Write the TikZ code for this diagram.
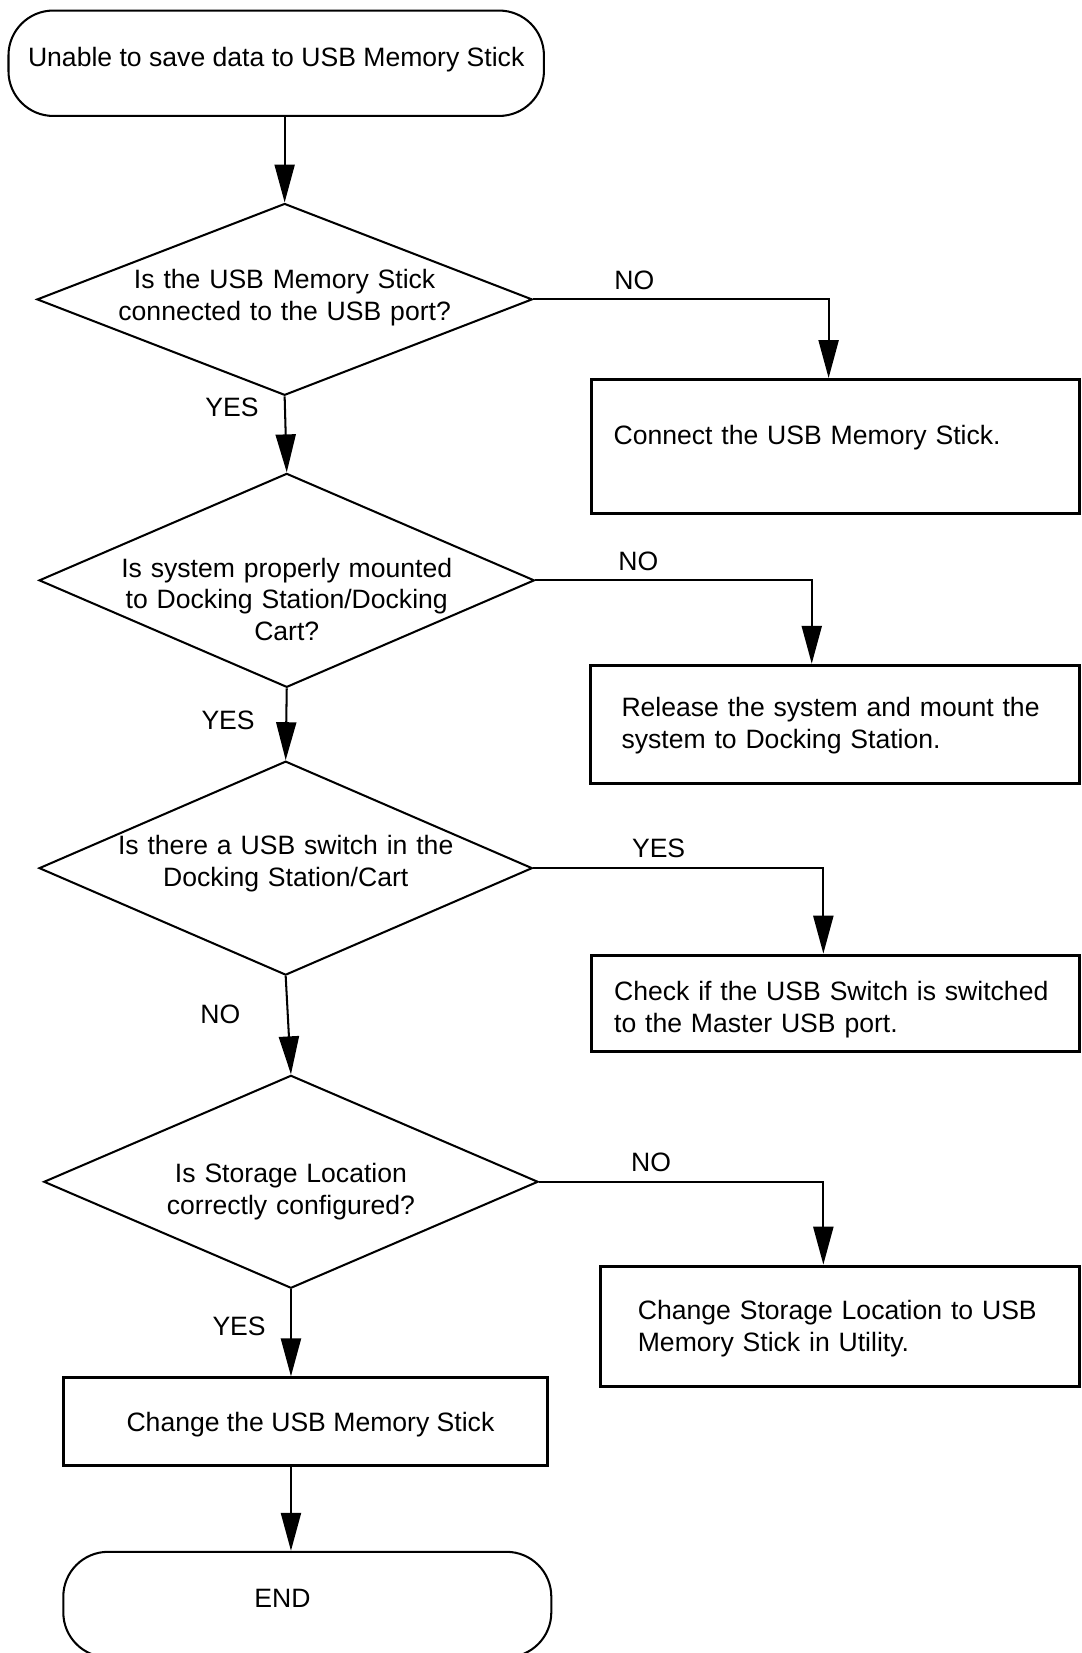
\documentclass[tikz,border=0pt]{standalone}
\usepackage{fontspec}
\setmainfont{Liberation Sans}
\usetikzlibrary{positioning, arrows.meta, shapes.geometric}

\begin{document}
\begin{tikzpicture}[
  x=0.02cm, y=-0.02cm,
  font=\fontsize{14.35}{17.07}\selectfont,
  term/.style={draw, rounded corners=0.85cm, line width=1.1pt, inner sep=0pt},
  dec/.style={draw, diamond, aspect=2.5, inner sep=0pt, line width=1.1pt,
              text width=6.4cm, align=center},
  act/.style={draw, rectangle, line width=1.6pt, inner ysep=0pt},
  flow/.style={-{Triangle[length=0.72cm, width=0.38cm]}, line width=1.1pt},
  lab/.style={inner sep=0.17cm},
]
\useasboundingbox (0,0) rectangle (1026,1568);

\node[term, minimum width=10.16cm, minimum height=2cm, text height=0.12cm,
      text depth=0pt] (start) at (262,60) {Unable to save data to USB Memory Stick};

\node[dec, minimum width=9.4cm, minimum height=3.64cm, text height=0pt,
      text depth=0.4cm] (d1) at (270,284)
  {Is the USB Memory Stick\\connected to the USB port?};
\node[act, minimum width=9.26cm, minimum height=2.54cm, text width=8.42cm,
      inner xsep=0.42cm, align=left, text height=0pt, text depth=0.06cm] (b1)
  at (792.5,423.5) {Connect the USB Memory Stick.};

\node[dec, minimum width=9.4cm, minimum height=4.06cm, text height=0pt,
      text depth=0.12cm] (d2) at (272,550.5)
  {Is system properly mounted\\to Docking Station/Docking\\Cart?};
\node[act, minimum width=9.28cm, minimum height=2.24cm, text width=8.1cm,
      inner xsep=0.59cm, align=left, text height=0pt, text depth=0.28cm] (b2)
  at (792,687) {Release the system and mount the\\system to Docking Station.};

\node[dec, minimum width=9.36cm, minimum height=4.06cm, text height=0pt,
      text depth=0.5cm] (d3) at (271,823.5)
  {Is there a USB switch in the\\Docking Station/Cart};
\node[act, minimum width=9.26cm, minimum height=1.82cm, text width=8.4cm,
      inner xsep=0.43cm, align=left, text height=0pt, text depth=0.1cm] (b3)
  at (792.5,951.5) {Check if the USB Switch is switched\\to the Master USB port.};

\node[dec, minimum width=9.38cm, minimum height=4.04cm, text height=0.04cm,
      text depth=0pt] (d4) at (276,1121)
  {Is Storage Location\\correctly configured?};
\node[act, minimum width=9.08cm, minimum height=2.28cm, text width=7.68cm,
      inner xsep=0.7cm, align=left, text height=0pt, text depth=0.24cm] (b4)
  at (797,1258) {Change Storage Location to USB\\Memory Stick in Utility.};

\node[act, minimum width=9.18cm, minimum height=1.66cm, text height=0.36cm,
      text depth=0pt] (b5) at (289.5,1348.5) {\hspace*{0.2cm}Change the USB Memory Stick};
\node[term, minimum width=9.26cm, minimum height=2cm, text height=0.12cm,
      text depth=0pt] (stop) at (291.5,1522) {END\hspace*{0.94cm}};

\draw[flow] (start.south -| d1.north) -- (d1.north);
\draw[flow] (d1.east) -| node[lab, pos=0.171, above] {NO} ([xshift=-0.13cm]b1.north);
\draw[flow] (d1.south) -- node[lab, pos=0.15, left=0.31cm] {YES} (d2.north);
\draw[flow] (d2.east) -| node[lab, pos=0.186, above] {NO} ([xshift=-0.44cm]b2.north);
\draw[flow] (d2.south) -- node[lab, pos=0.44, left=0.41cm] {YES} (d3.north);
\draw[flow] (d3.east) -| node[lab, pos=0.216, above] {YES} ([xshift=-0.23cm]b3.north);
\draw[flow] (d3.south) -- node[lab, pos=0.39, left=0.71cm] {NO} (d4.north);
\draw[flow] (d4.east) -| node[lab, pos=0.197, above] {NO} ([xshift=-0.32cm]b4.north);
\draw[flow] (d4.south) -- node[lab, pos=0.42, left=0.29cm] {YES} (d4.south |- b5.north);
\draw[flow] (b5.south -| d4.south) -- (stop.north -| d4.south);
\end{tikzpicture}
\end{document}
